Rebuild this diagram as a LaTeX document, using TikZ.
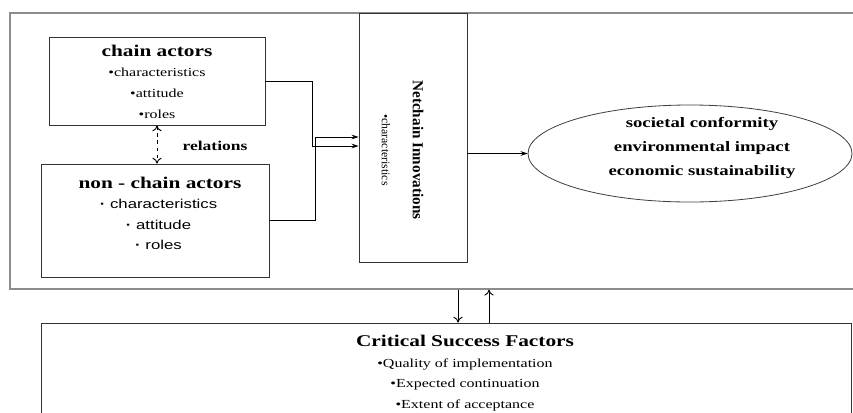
\documentclass[tikz,border=0pt]{standalone}
\usepackage{fontspec}
\setmainfont{Liberation Serif}[FakeStretch=1.3]
\setsansfont{Liberation Sans}[FakeStretch=1.3]
\newfontfamily\narrowserif{Liberation Serif}
\usetikzlibrary{shapes.geometric,arrows.meta}
\tikzset{
  outerframe/.style={
    draw=black!45,
    line width=1.2pt
  },
  actorbox/.style={
    draw=black!80,
    line width=0.8pt,
    inner sep=0pt
  },
  boxtitle/.style={
    inner sep=0pt,
    font=\fontsize{14}{16}\selectfont\bfseries
  },
  itemtext/.style={
    inner sep=0pt,
    font=\fontsize{10.5}{12}\selectfont
  },
  sansitem/.style={
    inner sep=0pt,
    font=\sffamily\fontsize{11}{13}\selectfont
  },
  flow/.style={
    -{Stealth[length=6pt,width=4pt]},
    line width=0.7pt
  },
  link/.style={
    -{To[length=5pt,width=8pt]},
    line width=0.8pt
  }
}
\begin{document}
\begin{tikzpicture}[x=0.03cm,y=-0.03cm]
  \useasboundingbox (0,0) rectangle (853,412);
  \node[outerframe,minimum width=25.65cm,minimum height=8.28cm] (frame) at (437.5,151) {};
  \node[actorbox,minimum width=24.3cm,minimum height=3.66cm] (csf) at (446,384) {};

  \node[actorbox,minimum width=6.48cm,minimum height=2.64cm] (chain) at (157,81) {};
  \node[boxtitle] (catitle) at (157,51) {chain actors};
  \foreach \t [count=\i] in {characteristics,attitude,roles}{
    \node[itemtext] (ca\i) at (157,50.5+21.3*\i) {•\t};
  }

  \node[actorbox,minimum width=6.84cm,minimum height=3.39cm] (nonchain) at (155,220.5) {};
  \node[boxtitle] (nctitle) at (160,183) {non - chain actors};
  \foreach \t [count=\i] in {characteristics,attitude,roles}{
    \node[sansitem] (nc\i) at (158.5,183.5+20.5*\i) {{\bfseries·} \t};
  }

  \node[actorbox,minimum width=3.24cm,minimum height=7.47cm] (netchain) at (413,137.5) {};
  \node[rotate=-90,font=\narrowserif\fontsize{13}{15}\selectfont\bfseries] (nititle) at (418,150) {Netchain Innovations};
  \node[rotate=-90,font=\narrowserif\fontsize{10}{11}\selectfont] (ni1) at (386,150) {•characteristics};

  \node[ellipse,draw=black!75,line width=0.7pt,inner sep=0pt,minimum width=9.72cm,minimum height=2.91cm] (goal) at (690,153.5) {};
  \foreach \t [count=\i] in {societal conformity,environmental impact,economic sustainability}{
    \node[boxtitle,font=\fontsize{12.3}{14}\selectfont\bfseries] (g\i) at (702,100+24*\i) {\t};
  }

  \node[boxtitle] (csftitle) at (465,341) {Critical Success Factors};
  \foreach \t [count=\i] in {Quality of implementation,Expected continuation,Extent of acceptance}{
    \node[itemtext] (csf\i) at (465,343.5+20.5*\i) {•\t};
  }

  \node[font=\fontsize{11.5}{13}\selectfont\bfseries,inner sep=0pt] (rel) at (215,146) {relations};
  \draw[link,{To[length=5pt,width=8pt]}-{To[length=5pt,width=8pt]},dashed] (chain.south) -- (chain.south |- nonchain.north);

  \coordinate (j1) at (312,146);
  \coordinate (j2) at (315,137);
  \draw[flow] (chain.east) -| (j1) -- (j1 -| netchain.west);
  \draw[flow] (nonchain.east) -| (j2) -- (j2 -| netchain.west);
  \draw[flow] (netchain.east |- goal.west) -- (goal.west);

  \coordinate (dn) at (458,0);
  \coordinate (up) at (489,0);
  \draw[link] (frame.south -| dn) -- (csf.north -| dn);
  \draw[link] (csf.north -| up) -- (frame.south -| up);
\end{tikzpicture}
\end{document}
